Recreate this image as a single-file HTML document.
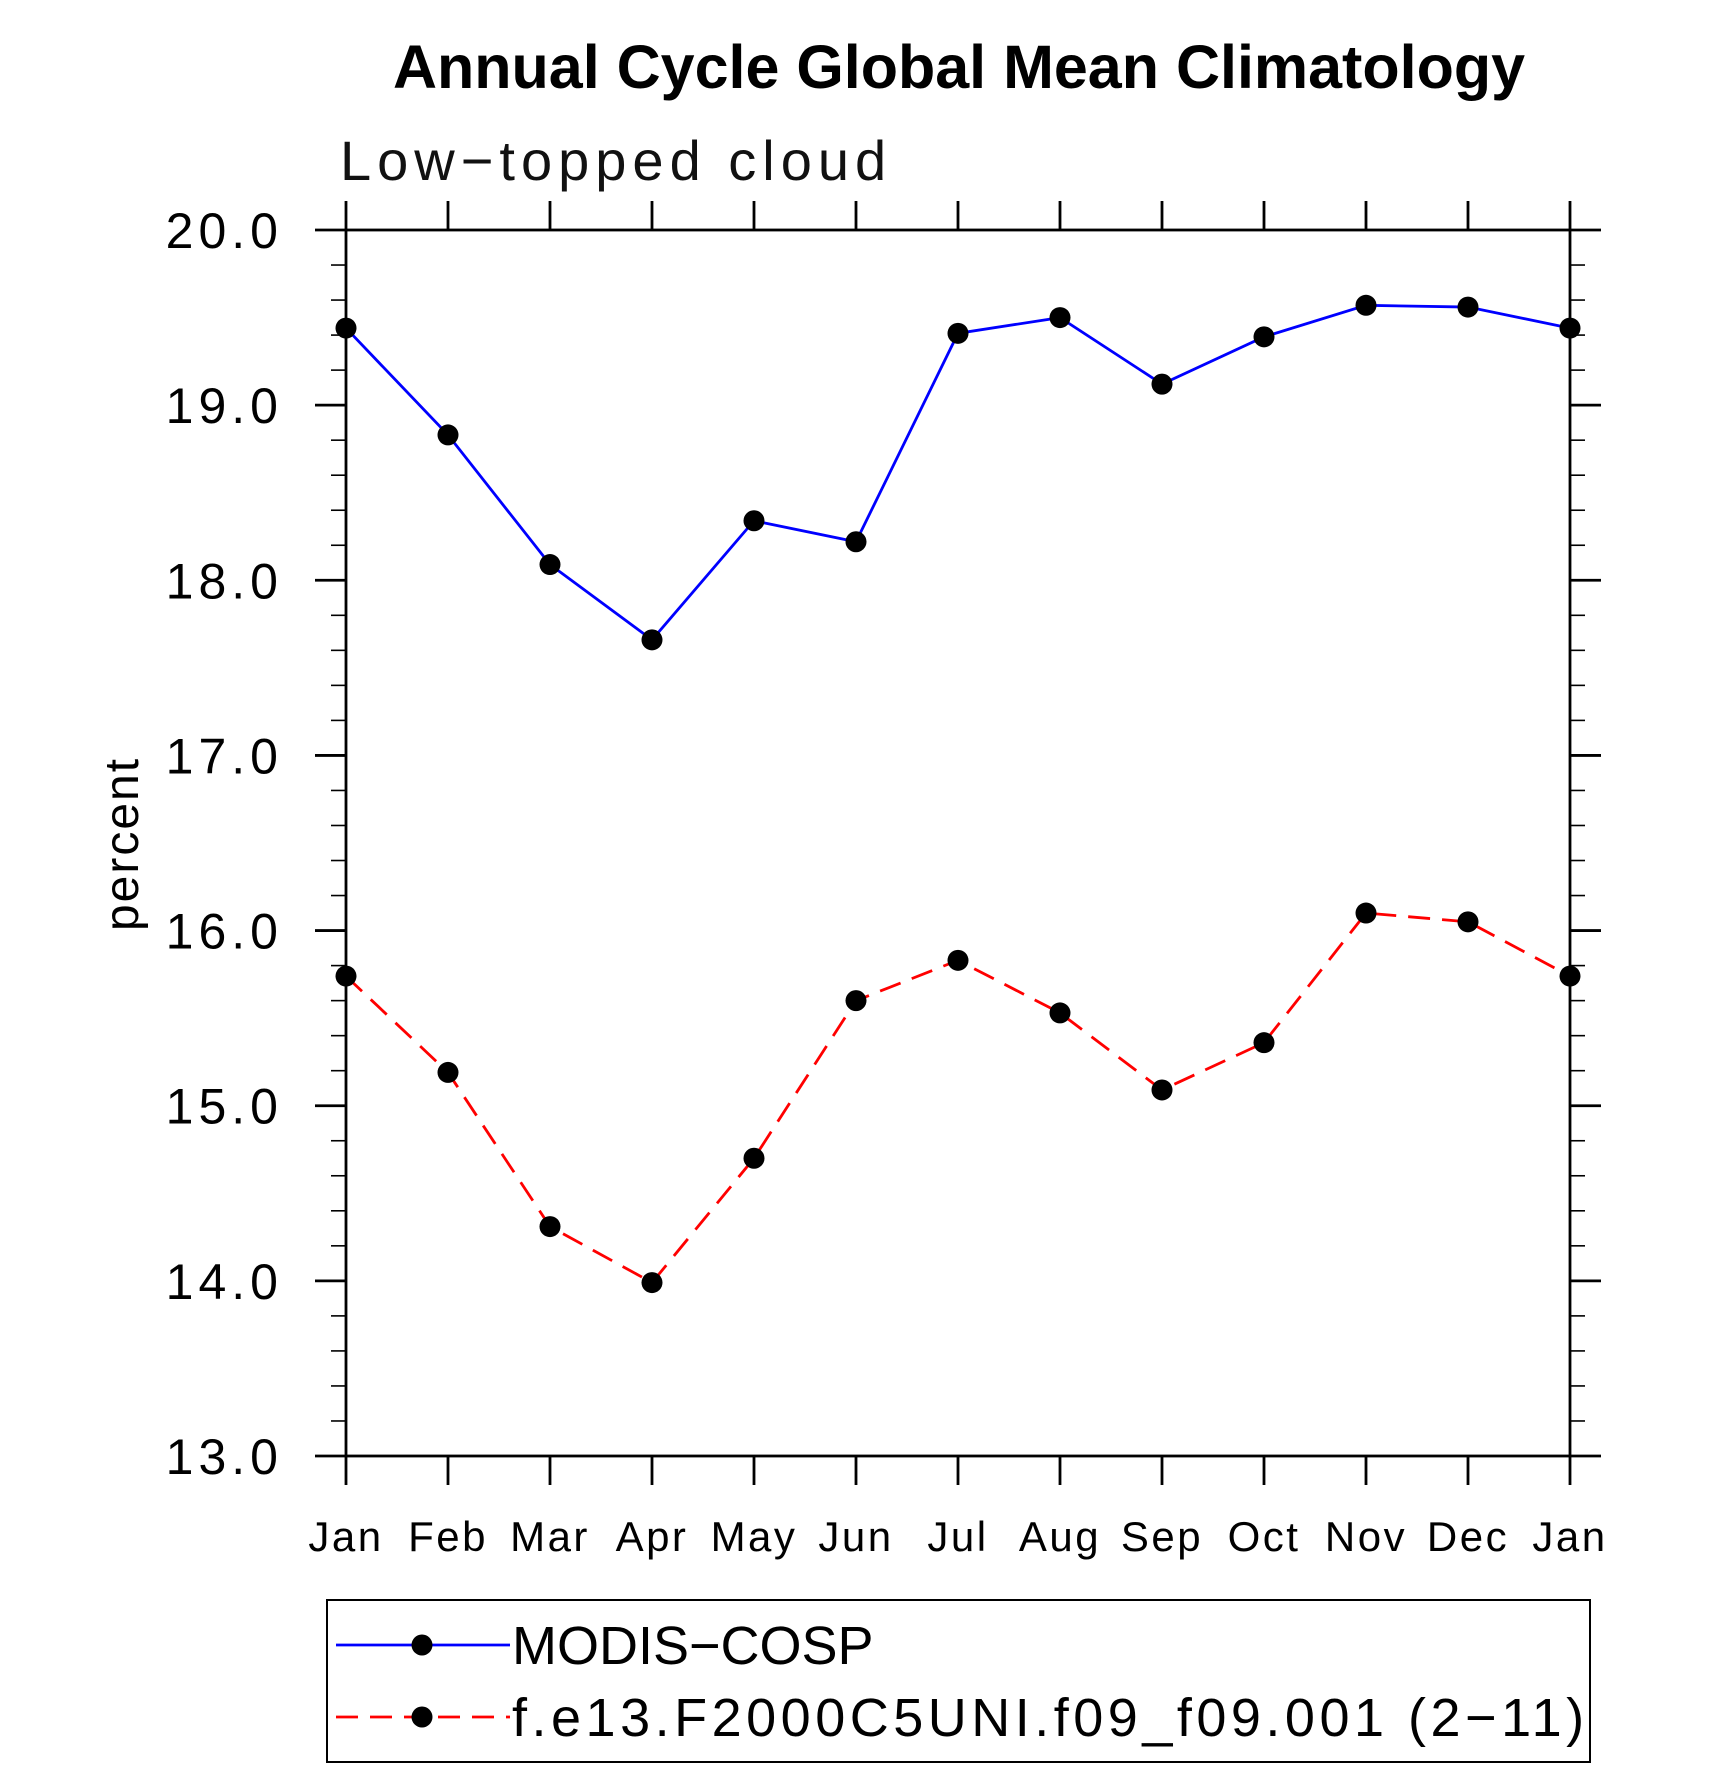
<!DOCTYPE html>
<html><head><meta charset="utf-8"><style>
html,body{margin:0;padding:0;background:#fff}
svg text{font-family:"Liberation Sans",sans-serif}
</style></head><body>
<svg width="1710" height="1767" viewBox="0 0 1710 1767" xmlns="http://www.w3.org/2000/svg">
<text x="959" y="88" font-size="61" font-weight="bold" text-anchor="middle">Annual Cycle Global Mean Climatology</text>
<text x="340" y="180" font-size="56" fill="#111" letter-spacing="6">Low−topped cloud</text>
<text transform="translate(138,844) rotate(-90)" font-size="48" text-anchor="middle" letter-spacing="2">percent</text>
<g id="axes"></g>
<g id="series"></g>
<rect x="327" y="1600" width="1263" height="162" fill="none" stroke="#000" stroke-width="2"/>
<line x1="336" y1="1645" x2="510" y2="1645" stroke="#0000ff" stroke-width="2.8"/>
<circle cx="422" cy="1645" r="10.5" fill="#000"/>
<text x="512" y="1664" font-size="54" letter-spacing="0">MODIS−COSP</text>
<line x1="336" y1="1717" x2="510" y2="1717" stroke="#ff0000" stroke-width="2.8" stroke-dasharray="22,12"/>
<circle cx="422" cy="1717" r="10.5" fill="#000"/>
<text x="512" y="1736" font-size="54" letter-spacing="4.5">f.e13.F2000C5UNI.f09_f09.001 (2−11)</text>
</svg>
<script>
const months = ["Jan","Feb","Mar","Apr","May","Jun","Jul","Aug","Sep","Oct","Nov","Dec","Jan"];
const modis = [19.44,18.83,18.09,17.66,18.34,18.22,19.41,19.50,19.12,19.39,19.57,19.56,19.44];
const model = [15.74,15.19,14.31,13.99,14.70,15.60,15.83,15.53,15.09,15.36,16.10,16.05,15.74];
const yTicks = [13,14,15,16,17,18,19,20];
const yTickLabels = ["13.0","14.0","15.0","16.0","17.0","18.0","19.0","20.0"];
const NS="http://www.w3.org/2000/svg";
const L=346,R=1570,T=230,B=1456,ymin=13,ymax=20;
const xs=i=>L+(R-L)*i/(months.length-1);
const ys=v=>B-(v-ymin)/(ymax-ymin)*(B-T);
function mk(tag,attrs,parent){const e=document.createElementNS(NS,tag);for(const k in attrs)e.setAttribute(k,attrs[k]);parent.appendChild(e);return e;}
const ax=document.getElementById('axes');
let f=mk('rect',{x:L,y:T,width:R-L,height:B-T,fill:'none',stroke:'#000','stroke-width':2.8},ax);


months.forEach((m,i)=>{
  const x=xs(i);
  let t=mk('line',{x1:x,y1:T,x2:x,y2:T-29,stroke:'#000','stroke-width':2.8},ax);
  
  
  t=mk('line',{x1:x,y1:B,x2:x,y2:B+29,stroke:'#000','stroke-width':2.8},ax);
  
  
  const tx=mk('text',{x:x,y:1551,'font-size':42,'text-anchor':'middle','letter-spacing':2.5},ax);
  tx.textContent=m;
  
  
});
for(let v=ymin;v<=ymax+1e-9;v+=0.2){
  const y=ys(v);const major=Math.abs(v-Math.round(v))<1e-6;
  const len=major?31:15;
  let t=mk('line',{x1:L,y1:y,x2:L-len,y2:y,stroke:'#000','stroke-width':major?2.8:1.6},ax);
  
  
  t=mk('line',{x1:R,y1:y,x2:R+len,y2:y,stroke:'#000','stroke-width':major?2.8:1.6},ax);
  
  
}
yTicks.forEach((v,i)=>{
  const tx=mk('text',{x:283,y:ys(v)+18,'font-size':50,'text-anchor':'end','letter-spacing':5},ax);
  tx.textContent=yTickLabels[i];
  
  
});
const sg=document.getElementById('series');
function series(vals,color,dash,name){
  const p=mk('polyline',{points:vals.map((v,i)=>xs(i)+','+ys(v)).join(' '),fill:'none',stroke:color,'stroke-width':2.8},sg);
  if(dash)p.setAttribute('stroke-dasharray',dash);
  
  
  vals.forEach((v,i)=>{
    const c=mk('circle',{cx:xs(i),cy:ys(v),r:10.5,fill:'#000'},sg);
    
    
  });
}
series(modis,'#0000ff',null,'modis');
series(model,'#ff0000','22,12','model');
</script>
</body></html>
